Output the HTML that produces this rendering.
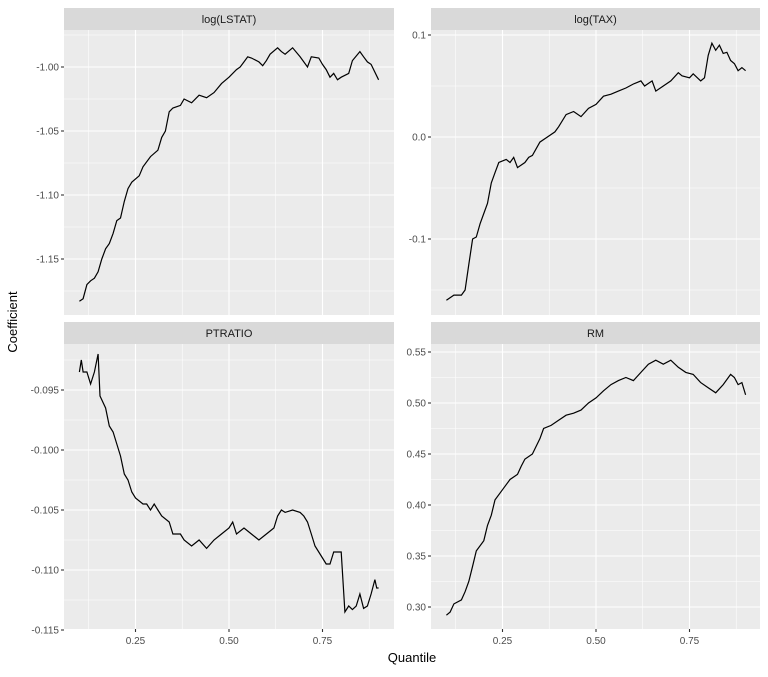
<!DOCTYPE html>
<html><head><meta charset="utf-8"><style>
body{margin:0;background:#fff;}
svg text{font-family:"Liberation Sans",sans-serif;}
</style></head><body>
<svg id="s" width="768" height="672" xmlns="http://www.w3.org/2000/svg"></svg>
<script>
const S=document.getElementById('s');let h='';
const panels=[
 {x0:64,x1:394,top:8,title:'log(LSTAT)',ticks:[[-1.00,'-1.00'],[-1.05,'-1.05'],[-1.10,'-1.10'],[-1.15,'-1.15']],v0:-1.00,y0:67,pp:64/0.05,
  d:[[0.10,-1.183],[0.11,-1.181],[0.12,-1.170],[0.13,-1.167],[0.14,-1.165],[0.15,-1.160],[0.16,-1.150],[0.17,-1.142],[0.18,-1.138],[0.19,-1.130],[0.20,-1.120],[0.21,-1.118],[0.22,-1.105],[0.23,-1.095],[0.24,-1.090],[0.26,-1.085],[0.27,-1.078],[0.29,-1.070],[0.31,-1.065],[0.32,-1.055],[0.33,-1.050],[0.34,-1.035],[0.35,-1.032],[0.37,-1.030],[0.38,-1.025],[0.40,-1.028],[0.42,-1.022],[0.44,-1.024],[0.46,-1.020],[0.48,-1.013],[0.50,-1.008],[0.52,-1.002],[0.53,-1.000],[0.54,-0.996],[0.55,-0.992],[0.56,-0.993],[0.58,-0.996],[0.59,-0.999],[0.60,-0.995],[0.61,-0.990],[0.63,-0.985],[0.64,-0.988],[0.65,-0.990],[0.67,-0.985],[0.69,-0.992],[0.71,-1.000],[0.72,-0.992],[0.74,-0.993],[0.75,-0.998],[0.76,-1.002],[0.77,-1.008],[0.78,-1.005],[0.79,-1.010],[0.80,-1.008],[0.82,-1.005],[0.83,-0.995],[0.85,-0.988],[0.86,-0.992],[0.87,-0.996],[0.88,-0.998],[0.90,-1.010]]},
 {x0:431,x1:760,top:8,title:'log(TAX)',ticks:[[0.1,'0.1'],[0.0,'0.0'],[-0.1,'-0.1']],v0:0.1,y0:35,pp:1020,
  d:[[0.1,-0.16],[0.12,-0.155],[0.14,-0.155],[0.15,-0.15],[0.16,-0.125],[0.17,-0.10],[0.18,-0.098],[0.19,-0.085],[0.20,-0.075],[0.21,-0.065],[0.22,-0.045],[0.23,-0.035],[0.24,-0.025],[0.26,-0.022],[0.27,-0.025],[0.28,-0.020],[0.29,-0.030],[0.31,-0.025],[0.32,-0.020],[0.33,-0.018],[0.35,-0.005],[0.37,0.000],[0.39,0.005],[0.40,0.010],[0.42,0.022],[0.44,0.025],[0.46,0.020],[0.48,0.028],[0.50,0.032],[0.52,0.040],[0.54,0.042],[0.56,0.045],[0.58,0.048],[0.60,0.052],[0.62,0.055],[0.63,0.050],[0.65,0.055],[0.66,0.045],[0.68,0.050],[0.70,0.055],[0.72,0.063],[0.73,0.060],[0.75,0.058],[0.76,0.062],[0.78,0.055],[0.79,0.058],[0.80,0.080],[0.81,0.092],[0.82,0.085],[0.83,0.090],[0.84,0.082],[0.85,0.083],[0.86,0.075],[0.87,0.072],[0.88,0.065],[0.89,0.068],[0.90,0.065]]},
 {x0:64,x1:394,top:322,title:'PTRATIO',ticks:[[-0.095,'-0.095'],[-0.100,'-0.100'],[-0.105,'-0.105'],[-0.110,'-0.110'],[-0.115,'-0.115']],v0:-0.095,y0:390,pp:60/0.005,
  d:[[0.10,-0.0935],[0.105,-0.0925],[0.11,-0.0935],[0.12,-0.0935],[0.13,-0.0945],[0.14,-0.0935],[0.15,-0.092],[0.155,-0.0955],[0.17,-0.0965],[0.18,-0.098],[0.19,-0.0985],[0.20,-0.0995],[0.21,-0.1005],[0.22,-0.102],[0.23,-0.1025],[0.24,-0.1035],[0.25,-0.104],[0.27,-0.1045],[0.28,-0.1045],[0.29,-0.105],[0.30,-0.1045],[0.31,-0.105],[0.32,-0.1055],[0.34,-0.106],[0.35,-0.107],[0.37,-0.107],[0.38,-0.1075],[0.40,-0.108],[0.42,-0.1075],[0.44,-0.1082],[0.46,-0.1075],[0.48,-0.107],[0.50,-0.1065],[0.51,-0.106],[0.52,-0.107],[0.54,-0.1065],[0.56,-0.107],[0.58,-0.1075],[0.60,-0.107],[0.62,-0.1065],[0.63,-0.1055],[0.64,-0.105],[0.65,-0.1052],[0.67,-0.105],[0.69,-0.1052],[0.70,-0.1055],[0.71,-0.106],[0.72,-0.107],[0.73,-0.108],[0.75,-0.109],[0.76,-0.1095],[0.77,-0.1095],[0.78,-0.1085],[0.80,-0.1085],[0.81,-0.1135],[0.82,-0.113],[0.83,-0.1133],[0.84,-0.113],[0.85,-0.112],[0.86,-0.1132],[0.87,-0.113],[0.88,-0.112],[0.89,-0.1108],[0.895,-0.1115],[0.90,-0.1115]]},
 {x0:431,x1:760,top:322,title:'RM',ticks:[[0.55,'0.55'],[0.50,'0.50'],[0.45,'0.45'],[0.40,'0.40'],[0.35,'0.35'],[0.30,'0.30']],v0:0.55,y0:352,pp:51/0.05,
  d:[[0.10,0.292],[0.11,0.295],[0.12,0.303],[0.14,0.307],[0.15,0.315],[0.16,0.325],[0.17,0.340],[0.18,0.355],[0.20,0.365],[0.21,0.380],[0.22,0.390],[0.23,0.405],[0.25,0.415],[0.27,0.425],[0.29,0.430],[0.30,0.438],[0.31,0.445],[0.33,0.450],[0.35,0.465],[0.36,0.475],[0.38,0.478],[0.40,0.483],[0.42,0.488],[0.44,0.490],[0.46,0.493],[0.48,0.500],[0.50,0.505],[0.52,0.512],[0.54,0.518],[0.56,0.522],[0.58,0.525],[0.60,0.522],[0.62,0.530],[0.64,0.538],[0.66,0.542],[0.68,0.538],[0.70,0.542],[0.72,0.535],[0.74,0.530],[0.76,0.528],[0.78,0.520],[0.80,0.515],[0.82,0.510],[0.84,0.518],[0.86,0.528],[0.87,0.525],[0.88,0.518],[0.89,0.520],[0.90,0.508]]}
];
panels.forEach(p=>{
 const st=p.top, pt=st+22, pb=pt+285;
 const X=q=>p.x0+(229-64)+(q-0.5)*374;
 const Y=v=>p.y0+(p.v0-v)*p.pp;
 h+=`<rect x="${p.x0}" y="${st}" width="${p.x1-p.x0}" height="22" fill="#d9d9d9"/>`;
 h+=`<text x="${(p.x0+p.x1)/2}" y="${st+15}" font-size="11" fill="#1a1a1a" text-anchor="middle">${p.title}</text>`;
 h+=`<rect x="${p.x0}" y="${pt}" width="${p.x1-p.x0}" height="${pb-pt}" fill="#ebebeb"/>`;
 const step=p.ticks[0][0]-p.ticks[1][0];
 for(let i=-1;i<=p.ticks.length;i++){const v=p.ticks[0][0]-(i+0.5)*step;const y=Y(v);if(y>pt&&y<pb)h+=`<line x1="${p.x0}" x2="${p.x1}" y1="${y}" y2="${y}" stroke="#fff" stroke-width="0.55"/>`;}
 [0.125,0.375,0.625,0.875].forEach(q=>h+=`<line x1="${X(q)}" x2="${X(q)}" y1="${pt}" y2="${pb}" stroke="#fff" stroke-width="0.55"/>`);
 p.ticks.forEach(([v,l])=>{const y=Y(v);if(y>=pt-1&&y<=pb+1){h+=`<line x1="${p.x0}" x2="${p.x1}" y1="${y}" y2="${y}" stroke="#fff" stroke-width="1.1"/><line x1="${p.x0-3}" x2="${p.x0}" y1="${y}" y2="${y}" stroke="#333" stroke-width="1.1"/><text x="${p.x0-5}" y="${y+3.5}" font-size="10" fill="#4d4d4d" text-anchor="end">${l}</text>`;}});
 [0.25,0.5,0.75].forEach(q=>{h+=`<line x1="${X(q)}" x2="${X(q)}" y1="${pt}" y2="${pb}" stroke="#fff" stroke-width="1.1"/>`;
  if(st>100)h+=`<line x1="${X(q)}" x2="${X(q)}" y1="${pb}" y2="${pb+3}" stroke="#333" stroke-width="1.1"/><text x="${X(q)}" y="${pb+15}" font-size="10" fill="#4d4d4d" text-anchor="middle">${q.toFixed(2)}</text>`;});
 h+=`<polyline fill="none" stroke="#000" stroke-width="1.2" points="${p.d.map(([q,v])=>X(q).toFixed(1)+','+Y(v).toFixed(1)).join(' ')}"/>`;
});
h+=`<text x="412" y="662" font-size="13" fill="#000" text-anchor="middle">Quantile</text>`;
h+=`<text transform="translate(17,322) rotate(-90)" font-size="13" fill="#000" text-anchor="middle">Coefficient</text>`;
S.innerHTML=h;
</script>
</body></html>
